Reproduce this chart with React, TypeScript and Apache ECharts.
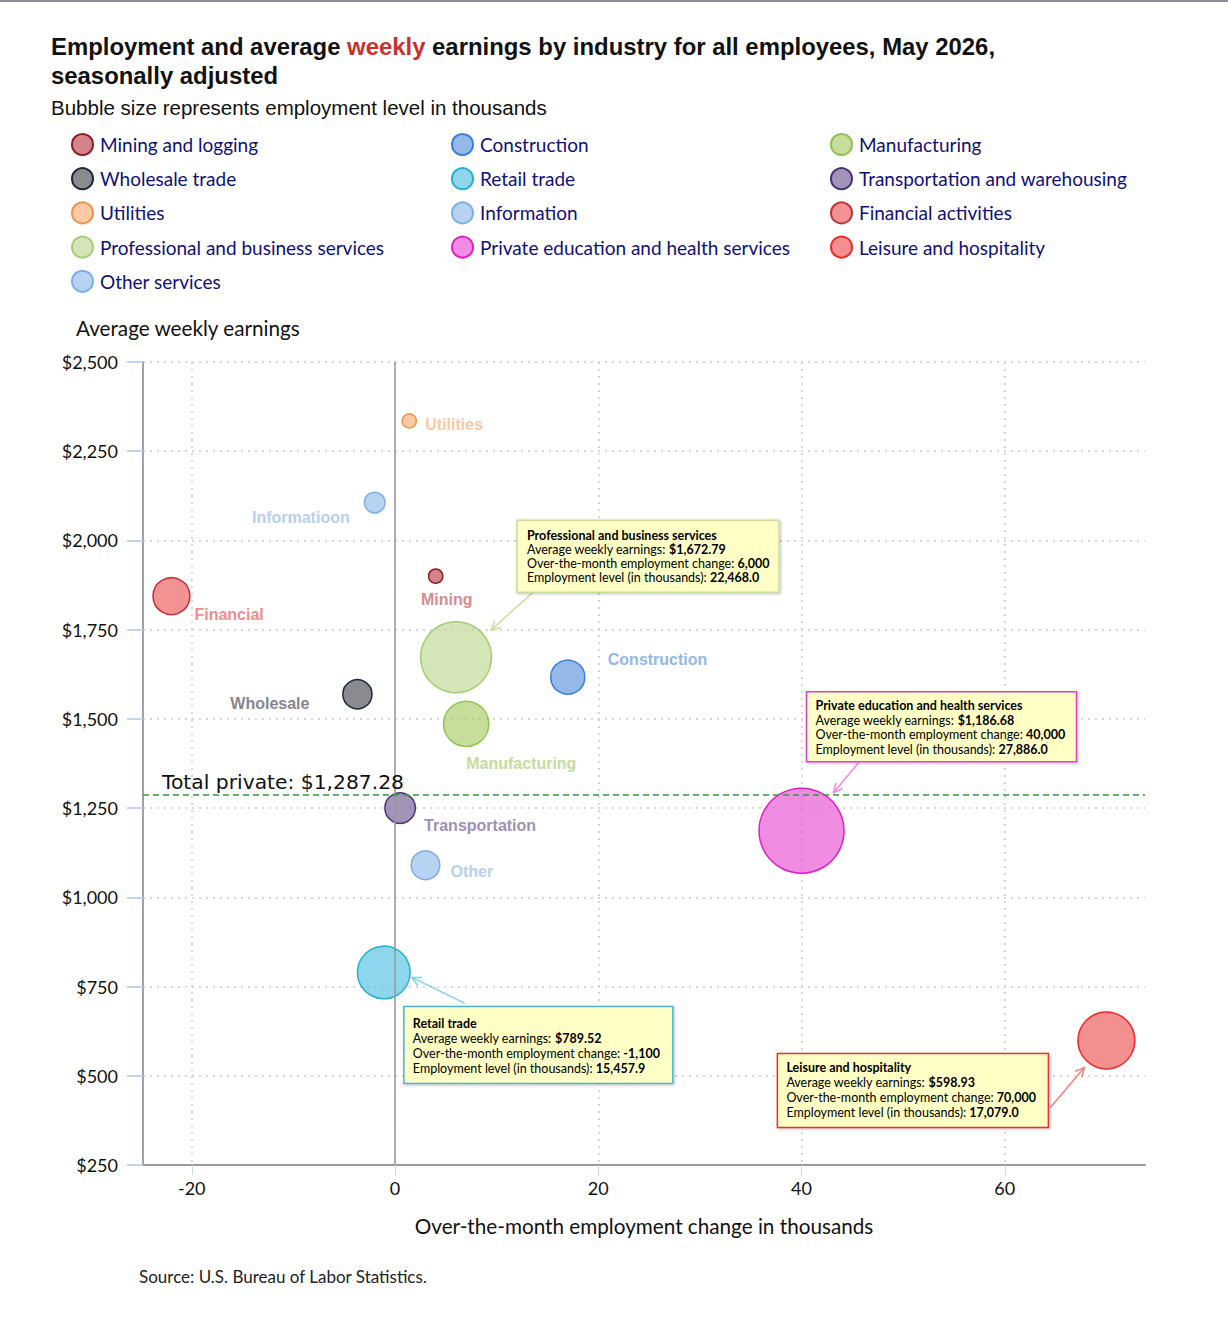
import React, { useEffect, useRef } from 'react';
import * as echarts from 'echarts';

// ---------------- DATA ----------------
const industries = [
  'Mining and logging',
  'Construction',
  'Manufacturing',
  'Wholesale trade',
  'Retail trade',
  'Transportation and warehousing',
  'Utilities',
  'Information',
  'Financial activities',
  'Professional and business services',
  'Private education and health services',
  'Leisure and hospitality',
  'Other services',
];
// over-the-month employment change, thousands
const employmentChange = [4.0, 17.0, 7.0, -3.7, -1.1, 0.5, 1.4, -2.0, -22.0, 6.0, 40.0, 70.0, 3.0];
// average weekly earnings, dollars
const weeklyEarnings = [1900, 1617, 1486, 1569, 789.52, 1250, 2335, 2106, 1844, 1672.79, 1186.68, 598.93, 1090];
// employment level, thousands
const employmentLevel = [640, 8300, 12600, 6400, 15457.9, 6900, 580, 3100, 9400, 22468.0, 27886.0, 17079.0, 6200];
// short on-chart labels
const shortLabels = ['Mining', 'Construction', 'Manufacturing', 'Wholesale', '', 'Transportation', 'Utilities', 'Informatioon', 'Financial', '', '', '', 'Other'];
const calloutIndustries = ['Professional and business services', 'Private education and health services', 'Retail trade', 'Leisure and hospitality'];
const totalPrivate = 1287.28;
const xTicks = [-20, 0, 20, 40, 60];

// ---------------- STYLES ----------------
const fills = [
  'rgba(183,48,60,0.6)', 'rgba(77,138,217,0.6)', 'rgba(160,198,90,0.6)', 'rgba(60,62,68,0.6)',
  'rgba(65,187,223,0.6)', 'rgba(100,75,137,0.6)', 'rgba(250,168,103,0.6)', 'rgba(137,180,233,0.6)',
  'rgba(233,73,73,0.6)', 'rgba(183,212,137,0.6)', 'rgba(230,65,207,0.6)', 'rgba(233,70,70,0.6)',
  'rgba(137,180,233,0.6)',
];
const borders = [
  '#8c1c22', '#3b7dd8', '#92c050', '#1c2838', '#28b0d0', '#4a3272', '#f0904c', '#7aaee8',
  '#c03038', '#a4cc74', '#e01ec4', '#f02828', '#7aaee8',
];
const labelColors = [
  '#d98a90', '#92b8e8', '#c5dc9c', '#86868e', '#8dd6ec', '#9f90b6', '#f9c9a0', '#b6d0f0',
  '#f08c8c', '#c5dc9c', '#f08de2', '#f29090', '#b6d0f0',
];
const labelPlacement: Record<string, { align: string; offset: number[] }> = {
  'Mining and logging': { align: 'center', offset: [11, 23] },
  Construction: { align: 'left', offset: [40, -18] },
  Manufacturing: { align: 'left', offset: [0, 40] },
  'Wholesale trade': { align: 'right', offset: [-48, 9] },
  'Transportation and warehousing': { align: 'left', offset: [24, 17] },
  Utilities: { align: 'left', offset: [16, 4] },
  Information: { align: 'right', offset: [-25, 15] },
  'Financial activities': { align: 'left', offset: [23, 18] },
  'Other services': { align: 'left', offset: [25, 6] },
};
const calloutLayout: Record<string, any> = {
  'Professional and business services': { dx: 61, dy: -137, w: 262, h: 72, padX: 10, padY: 8, lh: 14, from: [16, 72], tip: [35, -27], border: '#c9dd9b', arrow: '#c6dd9c' },
  'Private education and health services': { dx: 5, dy: -139, w: 270, h: 70, padX: 9, padY: 7, lh: 14.5, from: [52, 71], tip: [32, -38], border: '#e040c8', arrow: '#f088dc' },
  'Retail trade': { dx: 20, dy: 34, w: 269, h: 77, padX: 9, padY: 9.5, lh: 15, from: [61, -3], tip: [28, 5], border: '#4cb4d4', arrow: '#80d0e8' },
  'Leisure and hospitality': { dx: -329, dy: 13, w: 271, h: 74, padX: 9, padY: 6.5, lh: 15, from: [273, 54], tip: [-22, 27], border: '#e83030', arrow: '#f08080' },
};

const LATO = 'Lato, "Open Sans", sans-serif';
const ARIAL = '"Liberation Sans", Arial, sans-serif';

const zMin = Math.min(...employmentLevel);
const zMax = Math.max(...employmentLevel);
const bubbleSize = (z: number) => 14 + ((z - zMin) / (zMax - zMin)) * 71;

const fmtMoney = (v: number) => '$' + v.toLocaleString('en-US', { minimumFractionDigits: 2, maximumFractionDigits: 2 });

export default function App() {
  const ref = useRef<HTMLDivElement>(null);
  useEffect(() => {
    document.body.style.margin = '0';
    const chart = echarts.init(ref.current!, null, { renderer: 'svg' });

    const dotted = { color: '#cdc7d6', width: 1.5, type: [2, 5] as any };

    const series: any[] = industries.map((name, i) => {
      const lp = labelPlacement[name];
      return {
        name,
        type: 'scatter',
        z: 3,
        silent: true,
        symbol: 'circle',
        symbolSize: (v: number[]) => bubbleSize(v[2]),
        itemStyle: { color: fills[i], borderColor: borders[i], borderWidth: 1.5, opacity: 1 },
        emphasis: { disabled: true },
        label: {
          show: !!shortLabels[i],
          formatter: shortLabels[i] || '',
          position: 'inside',
          align: lp ? lp.align : 'center',
          offset: lp ? lp.offset : [0, 0],
          color: labelColors[i],
          fontFamily: ARIAL,
          fontWeight: 'bold',
          fontSize: 16,
        },
        data: [[employmentChange[i], weeklyEarnings[i], employmentLevel[i]]],
      };
    });

    series.unshift({
      name: '__ref',
      type: 'scatter',
      z: 2,
      silent: true,
      data: [],
      markLine: {
        silent: true,
        symbol: 'none',
        animation: false,
        data: [
          { xAxis: 0, lineStyle: { color: '#999999', width: 1.5, type: 'solid' }, label: { show: false } },
          {
            yAxis: totalPrivate,
            lineStyle: { color: '#2f9a3a', width: 1.5, type: [6, 4] },
            label: {
              show: true,
              position: 'insideStartTop',
              formatter: 'Total private: ' + fmtMoney(totalPrivate),
              fontFamily: '"DejaVu Sans", sans-serif',
              fontSize: 20.3,
              color: '#111',
              distance: [19, 3],
            },
          },
        ],
      },
    });

    const legendBase = {
      orient: 'vertical',
      icon: 'circle',
      itemWidth: 21,
      itemHeight: 21,
      itemGap: 11.2,
      selectedMode: false,
      textStyle: { fontFamily: LATO, fontSize: 19, lineHeight: 21, color: '#10107a', padding: [0, 0, 0, 2] },
    };

    const option: any = {
      animation: false,
      title: [
        {
          left: 46,
          top: 27,
          text: '{a|Employment and average }{r|weekly}{a| earnings by industry for all employees, May 2026,}\n{a|seasonally adjusted}',
          textStyle: {
            rich: {
              a: { fontFamily: ARIAL, fontSize: 23.9, fontWeight: 'bold', color: '#111', lineHeight: 29 },
              r: { fontFamily: ARIAL, fontSize: 23.9, fontWeight: 'bold', color: '#c9302c', lineHeight: 29 },
            },
          },
        },
        {
          left: 46,
          top: 92,
          text: 'Bubble size represents employment level in thousands',
          textStyle: { fontFamily: ARIAL, fontSize: 20.5, fontWeight: 'normal', color: '#111' },
        },
        {
          left: 134,
          top: 1263,
          text: 'Source: U.S. Bureau of Labor Statistics.',
          textStyle: { fontFamily: LATO, fontSize: 17, fontWeight: 'normal', color: '#222' },
        },
      ],
      legend: [0, 1, 2].map((k) => ({
        ...legendBase,
        left: [66, 446, 825][k],
        top: 128,
        data: industries.filter((_, i) => i % 3 === k),
      })),
      grid: { left: 143, right: 83, top: 362, bottom: 165, containLabel: false },
      xAxis: {
        type: 'value',
        min: -24.8,
        max: 73.8,
        name: 'Over-the-month employment change in thousands',
        nameLocation: 'middle',
        nameGap: 50,
        nameTextStyle: { fontFamily: LATO, fontSize: 20.7, color: '#111' },
        axisLine: { show: true, onZero: false, lineStyle: { color: '#9a9a9a', width: 2 } },
        axisTick: { show: true, length: 10, customValues: xTicks, lineStyle: { color: '#ccd6eb' } },
        axisLabel: { customValues: xTicks, margin: 14, fontFamily: LATO, fontSize: 18, color: '#111' },
        splitLine: { show: true, lineStyle: dotted },
      },
      yAxis: {
        type: 'value',
        min: 250,
        max: 2500,
        interval: 250,
        name: 'Average weekly earnings',
        nameLocation: 'end',
        nameGap: 24,
        nameTextStyle: { fontFamily: LATO, fontSize: 20.7, color: '#111', align: 'left', padding: [0, 0, 0, -67] },
        axisLine: { show: true, onZero: false, lineStyle: { color: '#a69eb8', width: 2 } },
        axisTick: { show: true, length: 16, lineStyle: { color: '#c5d3e8', width: 2 } },
        axisLabel: {
          margin: 25,
          fontFamily: LATO,
          fontSize: 18,
          color: '#111',
          formatter: (v: number) => '$' + v.toLocaleString('en-US'),
        },
        splitLine: { show: true, lineStyle: dotted },
      },
      series,
    };

    chart.setOption(option);

    // ---- callouts (positions derived from bubble pixel coordinates) ----
    const graphics: any[] = [
      { type: 'line', shape: { x1: 0, y1: 1, x2: 1228, y2: 1 }, style: { stroke: '#8f8b9a', lineWidth: 2 }, silent: true },
    ];
    calloutIndustries.forEach((name) => {
      const i = industries.indexOf(name);
      const L = calloutLayout[name];
      const p = chart.convertToPixel({ gridIndex: 0 }, [employmentChange[i], weeklyEarnings[i]]) as number[];
      const bx = p[0] + L.dx;
      const by = p[1] + L.dy;
      const S = [bx + L.from[0], by + L.from[1]];
      const T = [p[0] + L.tip[0], p[1] + L.tip[1]];
      const vx = T[0] - S[0];
      const vy = T[1] - S[1];
      const len = Math.sqrt(vx * vx + vy * vy) || 1;
      const ux = vx / len;
      const uy = vy / len;
      const hl = 9;
      const hw = 4.5;
      const p1 = [T[0] - ux * hl - uy * hw, T[1] - uy * hl + ux * hw];
      const p2 = [T[0] - ux * hl + uy * hw, T[1] - uy * hl - ux * hw];
      graphics.push({
        type: 'line',
        silent: true,
        z: 10,
        shape: { x1: S[0], y1: S[1], x2: T[0], y2: T[1] },
        style: { stroke: L.arrow, lineWidth: 1.5 },
      });
      graphics.push({
        type: 'polyline',
        silent: true,
        z: 10,
        shape: { points: [p1, T, p2] },
        style: { stroke: L.arrow, lineWidth: 1.5, fill: null },
      });
      graphics.push({
        type: 'rect',
        silent: true,
        z: 11,
        shape: { x: bx, y: by, width: L.w, height: L.h },
        style: {
          fill: '#ffffc6',
          stroke: L.border,
          lineWidth: 1.5,
          shadowBlur: 3,
          shadowOffsetX: 1,
          shadowOffsetY: 1,
          shadowColor: 'rgba(0,0,0,0.25)',
        },
      });
      const change = Math.round(employmentChange[i] * 1000).toLocaleString('en-US');
      const level = employmentLevel[i].toLocaleString('en-US', { minimumFractionDigits: 1, maximumFractionDigits: 1 });
      const text =
        `{h|${name}}\n` +
        `{n|Average weekly earnings: }{b|${fmtMoney(weeklyEarnings[i])}}\n` +
        `{n|Over-the-month employment change: }{b|${change}}\n` +
        `{n|Employment level (in thousands): }{b|${level}}`;
      const base = { fontFamily: LATO, fontSize: 12.5, color: '#000', lineHeight: L.lh };
      graphics.push({
        type: 'text',
        silent: true,
        z: 12,
        style: {
          x: bx + L.padX,
          y: by + L.padY,
          text,
          align: 'left',
          verticalAlign: 'top',
          rich: {
            h: { ...base, fontWeight: 'bold' },
            n: { ...base, fontWeight: 'normal' },
            b: { ...base, fontWeight: 'bold' },
          },
        },
      });
    });
    chart.setOption({ graphic: graphics });

    return () => chart.dispose();
  }, []);
  return <div ref={ref} style={{ width: 1228, height: 1330 }} />;
}
